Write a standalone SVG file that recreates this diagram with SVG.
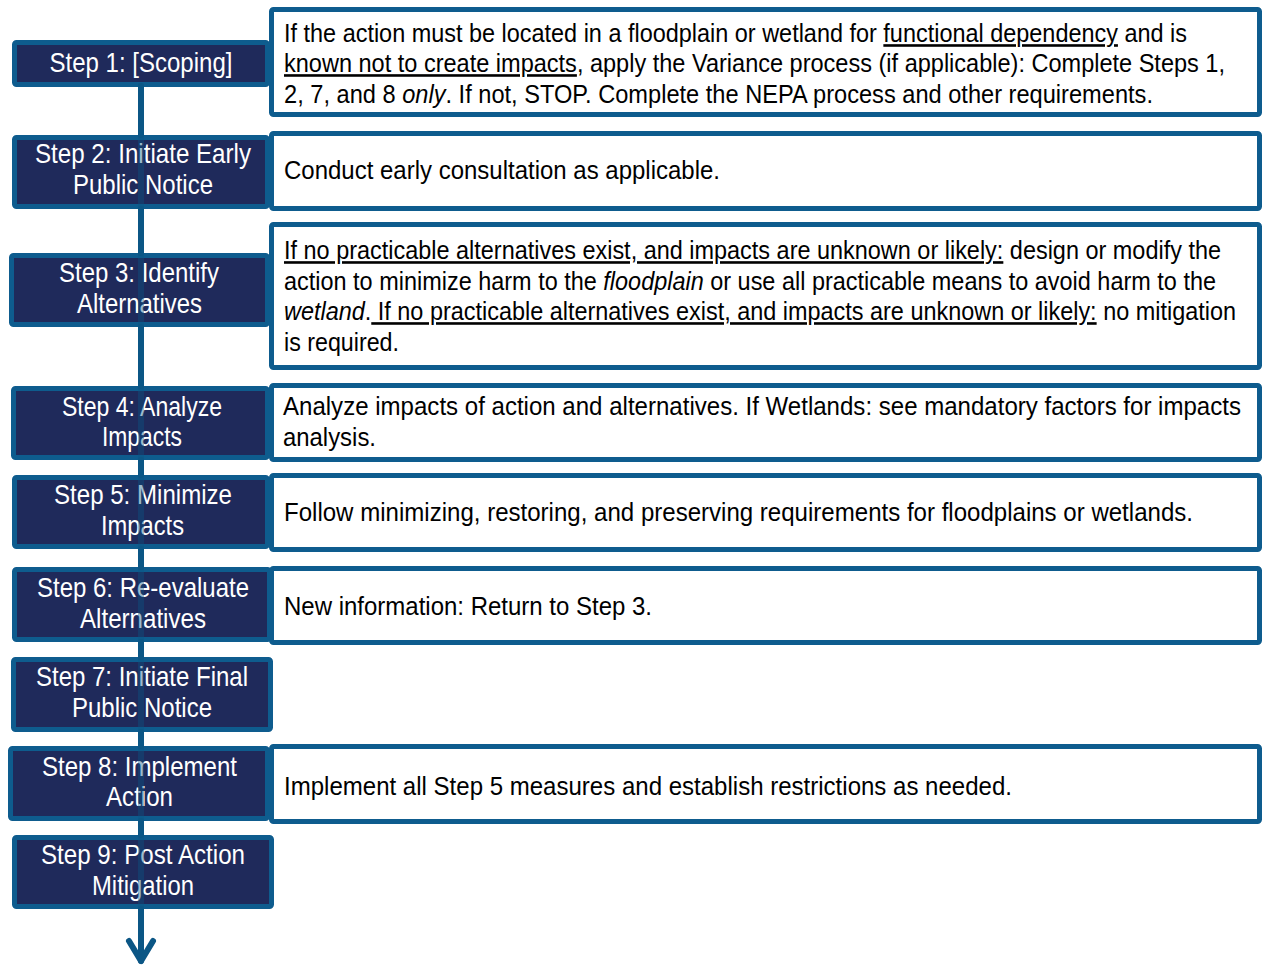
<svg xmlns="http://www.w3.org/2000/svg" width="1262" height="968" viewBox="0 0 1262 968">
<style>
.lbox rect{fill:#1F2A5B;stroke:#0E5C8E;stroke-width:5;}
.rbox rect{fill:#fff;stroke:#0E5C8E;stroke-width:5;}
.lt{font-family:"Liberation Sans",Arial,sans-serif;font-size:27px;fill:#fff;text-anchor:middle;}
.rt{font-family:"Liberation Sans",Arial,sans-serif;font-size:26px;fill:#000;}
.u{text-decoration:underline;}
.i{font-style:italic;}
.conn{fill:none;stroke:#0B5685;stroke-width:6;stroke-linecap:round;}
.through{opacity:0.4;}
</style>
<defs>
<marker id="chev" markerUnits="userSpaceOnUse" viewBox="-26 -18 32 36" markerWidth="32" markerHeight="36" refX="0" refY="0" orient="auto">
<path d="M-20,-12 L0,0 L-20,12" fill="none" stroke="#0B5685" stroke-width="6" stroke-linecap="round" stroke-linejoin="round"/>
</marker>
</defs>
<rect width="1262" height="968" fill="#fff"/>

<g id="step1" class="lbox"><rect x="14.5" y="42.5" width="253" height="42" rx="2"/>
<text class="lt" transform="scale(0.82,1)" x="171.95" y="72" textLength="223.17" lengthAdjust="spacingAndGlyphs">Step 1: [Scoping]</text></g>
<g id="step2" class="lbox"><rect x="14.5" y="137.5" width="253" height="69" rx="2"/>
<text class="lt" transform="scale(0.82,1)" x="174.39" y="163" textLength="263.41" lengthAdjust="spacingAndGlyphs">Step 2: Initiate Early</text>
<text class="lt" transform="scale(0.82,1)" x="174.39" y="194" textLength="170.73" lengthAdjust="spacingAndGlyphs">Public Notice</text></g>
<g id="step3" class="lbox"><rect x="11.5" y="255.5" width="256" height="69" rx="2"/>
<text class="lt" transform="scale(0.82,1)" x="169.51" y="282" textLength="195.12" lengthAdjust="spacingAndGlyphs">Step 3: Identify</text>
<text class="lt" transform="scale(0.82,1)" x="170.12" y="313" textLength="152.44" lengthAdjust="spacingAndGlyphs">Alternatives</text></g>
<g id="step4" class="lbox"><rect x="13.5" y="388.5" width="254" height="69" rx="2"/>
<text class="lt" transform="scale(0.82,1)" x="173.17" y="416" textLength="195.12" lengthAdjust="spacingAndGlyphs">Step 4: Analyze</text>
<text class="lt" transform="scale(0.82,1)" x="173.17" y="446" textLength="97.56" lengthAdjust="spacingAndGlyphs">Impacts</text></g>
<g id="step5" class="lbox"><rect x="14.5" y="477.5" width="253" height="69" rx="2"/>
<text class="lt" transform="scale(0.82,1)" x="174.39" y="504" textLength="217.07" lengthAdjust="spacingAndGlyphs">Step 5: Minimize</text>
<text class="lt" transform="scale(0.82,1)" x="173.78" y="535" textLength="101.22" lengthAdjust="spacingAndGlyphs">Impacts</text></g>
<g id="step6" class="lbox"><rect x="14.5" y="569.5" width="255" height="70" rx="2"/>
<text class="lt" transform="scale(0.82,1)" x="174.39" y="597" textLength="258.54" lengthAdjust="spacingAndGlyphs">Step 6: Re-evaluate</text>
<text class="lt" transform="scale(0.82,1)" x="174.39" y="628" textLength="153.66" lengthAdjust="spacingAndGlyphs">Alternatives</text></g>
<g id="step7" class="lbox"><rect x="13.5" y="659.5" width="257" height="70" rx="2"/>
<text class="lt" transform="scale(0.82,1)" x="173.17" y="686" textLength="258.54" lengthAdjust="spacingAndGlyphs">Step 7: Initiate Final</text>
<text class="lt" transform="scale(0.82,1)" x="173.17" y="717" textLength="170.73" lengthAdjust="spacingAndGlyphs">Public Notice</text></g>
<g id="step8" class="lbox"><rect x="10.5" y="748.5" width="257" height="70" rx="2"/>
<text class="lt" transform="scale(0.82,1)" x="170.12" y="776" textLength="237.80" lengthAdjust="spacingAndGlyphs">Step 8: Implement</text>
<text class="lt" transform="scale(0.82,1)" x="170.12" y="806" textLength="81.71" lengthAdjust="spacingAndGlyphs">Action</text></g>
<g id="step9" class="lbox"><rect x="14.5" y="837.5" width="257" height="69" rx="2"/>
<text class="lt" transform="scale(0.82,1)" x="174.39" y="864" textLength="248.78" lengthAdjust="spacingAndGlyphs">Step 9: Post Action</text>
<text class="lt" transform="scale(0.82,1)" x="174.39" y="895" textLength="124.39" lengthAdjust="spacingAndGlyphs">Mitigation</text></g>

<g id="note1" class="rbox"><rect x="271.5" y="9.5" width="988" height="105" rx="2"/>
<text class="rt" transform="scale(0.82,1)" x="346.34" y="42" textLength="1101.22" lengthAdjust="spacingAndGlyphs">If the action must be located in a floodplain or wetland for <tspan class="u">functional dependency</tspan> and is</text>
<text class="rt" transform="scale(0.82,1)" x="346.34" y="72" textLength="1147.56" lengthAdjust="spacingAndGlyphs"><tspan class="u">known not to create impacts</tspan>, apply the Variance process (if applicable): Complete Steps 1,</text>
<text class="rt" transform="scale(0.82,1)" x="346.34" y="103" textLength="1059.76" lengthAdjust="spacingAndGlyphs">2, 7, and 8 <tspan class="i">only</tspan>. If not, STOP. Complete the NEPA process and other requirements.</text></g>
<g id="note2" class="rbox"><rect x="271.5" y="133.5" width="988" height="75" rx="2"/>
<text class="rt" transform="scale(0.82,1)" x="346.34" y="179" textLength="531.71" lengthAdjust="spacingAndGlyphs">Conduct early consultation as applicable.</text></g>
<g id="note3" class="rbox"><rect x="271.5" y="224.5" width="988" height="143" rx="2"/>
<text class="rt" transform="scale(0.82,1)" x="346.34" y="259" textLength="1142.68" lengthAdjust="spacingAndGlyphs"><tspan class="u">If no practicable alternatives exist, and impacts are unknown or likely:</tspan> design or modify the</text>
<text class="rt" transform="scale(0.82,1)" x="346.34" y="290" textLength="1136.59" lengthAdjust="spacingAndGlyphs">action to minimize harm to the <tspan class="i">floodplain</tspan> or use all practicable means to avoid harm to the</text>
<text class="rt" transform="scale(0.82,1)" x="346.34" y="320" textLength="1160.98" lengthAdjust="spacingAndGlyphs"><tspan class="i">wetland</tspan>.<tspan class="u"> If no practicable alternatives exist, and impacts are unknown or likely:</tspan> no mitigation</text>
<text class="rt" transform="scale(0.82,1)" x="346.34" y="351" textLength="140.24" lengthAdjust="spacingAndGlyphs">is required.</text></g>
<g id="note4" class="rbox"><rect x="271.5" y="385.5" width="988" height="74" rx="2"/>
<text class="rt" transform="scale(0.82,1)" x="345.12" y="415" textLength="1168.29" lengthAdjust="spacingAndGlyphs">Analyze impacts of action and alternatives. If Wetlands: see mandatory factors for impacts</text>
<text class="rt" transform="scale(0.82,1)" x="345.12" y="446" textLength="113.41" lengthAdjust="spacingAndGlyphs">analysis.</text></g>
<g id="note5" class="rbox"><rect x="271.5" y="475.5" width="988" height="74" rx="2"/>
<text class="rt" transform="scale(0.82,1)" x="346.34" y="521" textLength="1108.54" lengthAdjust="spacingAndGlyphs">Follow minimizing, restoring, and preserving requirements for floodplains or wetlands.</text></g>
<g id="note6" class="rbox"><rect x="271.5" y="568.5" width="988" height="74" rx="2"/>
<text class="rt" transform="scale(0.82,1)" x="346.34" y="615" textLength="448.78" lengthAdjust="spacingAndGlyphs">New information: Return to Step 3.</text></g>
<g id="note8" class="rbox"><rect x="271.5" y="746.5" width="988" height="75" rx="2"/>
<text class="rt" transform="scale(0.82,1)" x="346.34" y="795" textLength="887.80" lengthAdjust="spacingAndGlyphs">Implement all Step 5 measures and establish restrictions as needed.</text></g>

<g id="connectors">
<path class="conn through" d="M141,86 V909"/>
<path class="conn" d="M141,86 V135 M141,209 V253 M141,327 V386 M141,460 V475 M141,549 V567 M141,642 V657 M141,732 V746 M141,821 V835"/>
<path class="conn" d="M141,909 V961" marker-end="url(#chev)"/>
</g>
</svg>
